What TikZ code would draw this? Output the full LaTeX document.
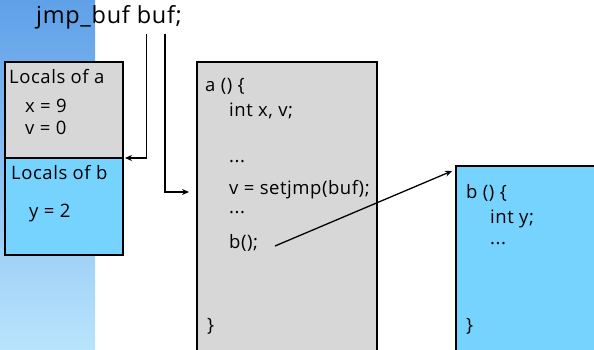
\documentclass[tikz,border=0pt]{standalone}
\usepackage{fontspec}
\setmainfont{Open Sans}[LetterSpace=3]
\usetikzlibrary{arrows.meta}
\definecolor{greyfill}{RGB}{215,215,215}
\definecolor{bluefill}{RGB}{118,211,254}
\definecolor{bgtop}{RGB}{95,160,232}
\definecolor{bgbot}{RGB}{185,228,252}
\tikzset{
  box/.style={draw=black,line width=1.6pt},
  txt/.style={anchor=west,inner sep=0pt,font=\fontsize{18.5}{20}\selectfont},
  conn/.style={line width=1.3pt,-{Stealth[length=7pt,width=6pt]}},
}
\begin{document}
\begin{tikzpicture}[x=1pt,y=-1pt]
\useasboundingbox (0,0) rectangle (594,350);
\clip (0,0) rectangle (594,350);
% background strip
\shade[top color=bgtop,bottom color=bgbot] (0,0) rectangle (95,350);
% title
\node[txt,font=\fontsize{23.5}{25}\selectfont] (title) at (36,17) {jmp\_buf buf;};
% stack frames
\path[box,fill=greyfill] (5,62) rectangle (123,158);
\path[box,fill=bluefill] (5,158) rectangle (123,255);
\node[txt] (la) at (9,77) {Locals of a};
\node[txt] (x9) at (25,106) {x = 9};
\node[txt] (v0) at (25,128) {v = 0};
\node[txt] (lb) at (11,173) {Locals of b};
\node[txt] (y2) at (29,213) {y = 2};
\coordinate (stackb) at (125,158);
% function a
\path[box,fill=greyfill] (197,62) rectangle (377,360);
\node[txt] (a0) at (205,86) {a () \{};
\node[txt] (a1) at (229,111) {int x, v;};
\node[txt] (a2) at (229,162) {...};
\node[txt] (a3) at (229,190) {v = setjmp(buf);};
\node[txt] (a4) at (229,213) {...};
\node[txt] (a5) at (229,243) {b();};
\node[txt] (a6) at (207,326) {\}};
\coordinate (codea) at (189,192);
% function b
\path[box,fill=bluefill] (456,166) rectangle (600,360);
\node[txt] (b0) at (466,193) {b () \{};
\node[txt] (b1) at (490,219) {int y;};
\node[txt] (b2) at (490,244) {...};
\node[txt] (b3) at (466,326) {\}};
\coordinate (bstart) at (275,246);
\coordinate (bend) at (452,171);
% connectors
\coordinate (p1) at (146.5,34);
\coordinate (p2) at (165,34);
\draw[conn] (p1) |- (stackb);
\draw[conn] (p2) |- (codea);
\draw[conn] (bstart) -- (bend);
\end{tikzpicture}
\end{document}
